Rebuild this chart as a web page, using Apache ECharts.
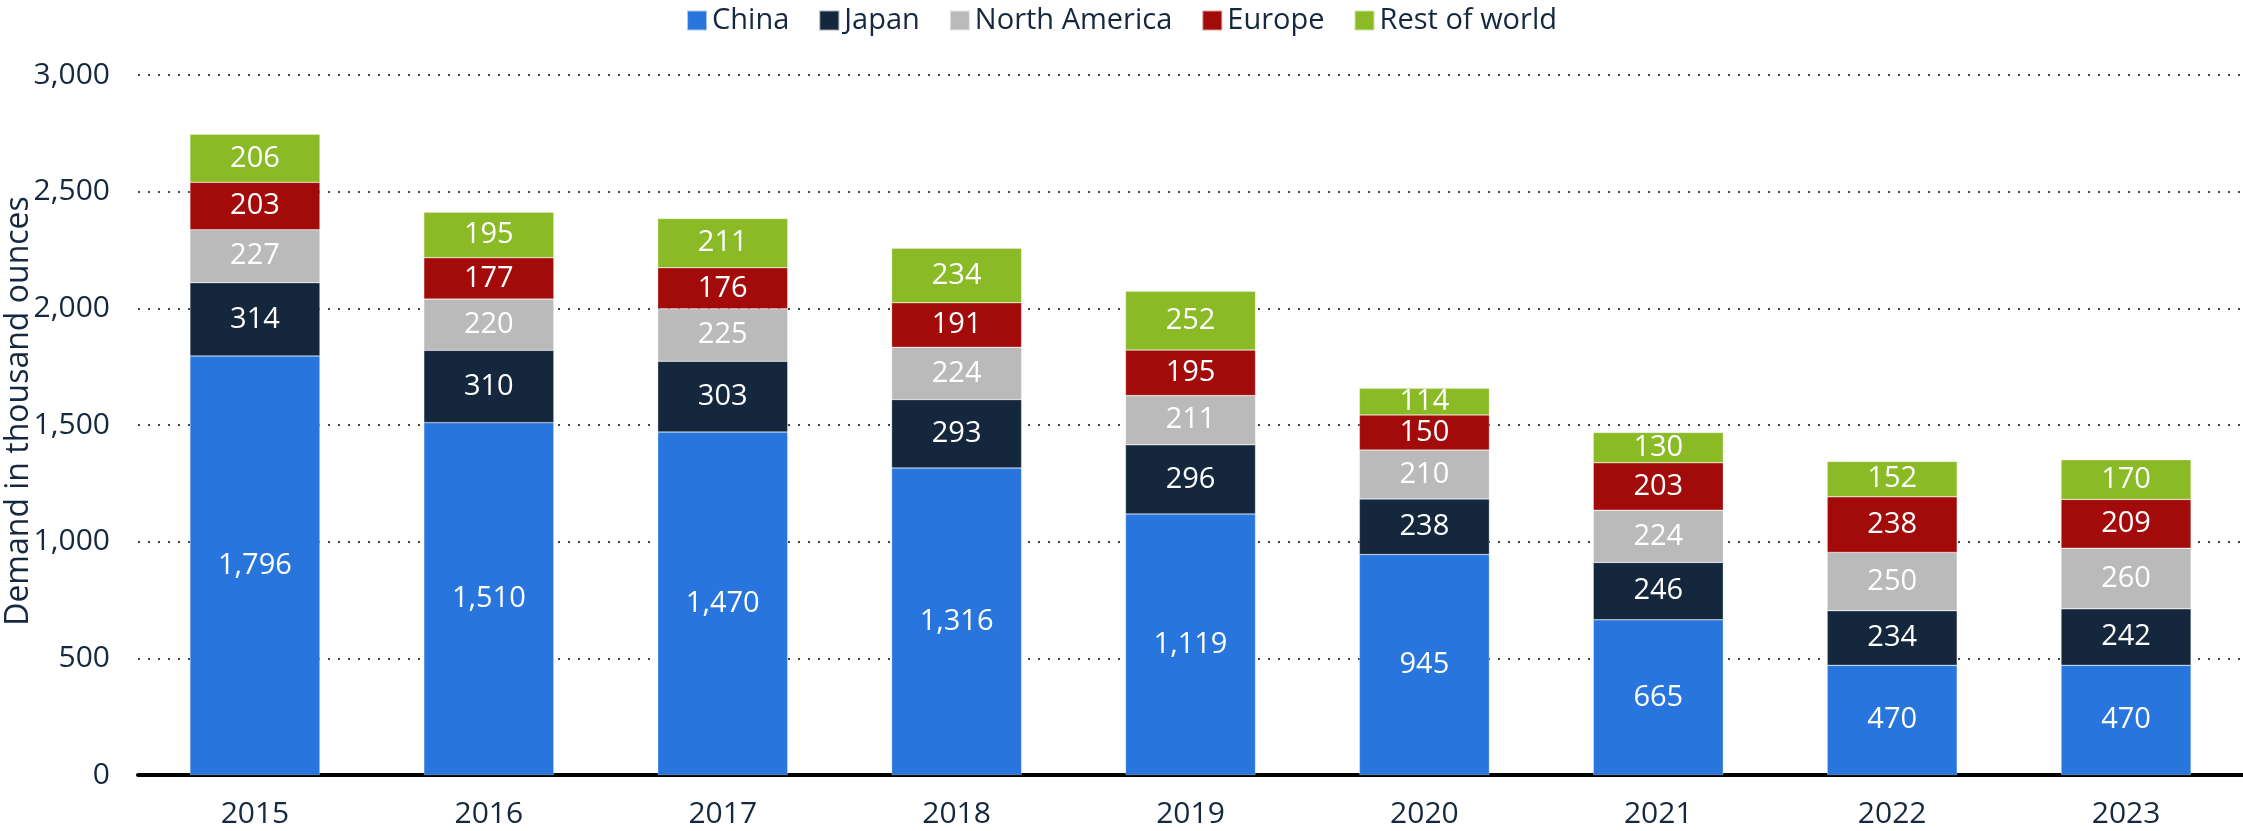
<!DOCTYPE html>
<html>
<head>
<meta charset="utf-8">
<script src="https://cdn.jsdelivr.net/npm/echarts@6/dist/echarts.min.js"></script>
<style>
  html, body { margin: 0; padding: 0; background: #fff; }
  #chart { width: 2243px; height: 831px; }
</style>
</head>
<body>
<div id="chart"></div>
<script>
// 年份
const years = ['2015', '2016', '2017', '2018', '2019', '2020', '2021', '2022', '2023']
// 各地区需求 (thousand ounces)
const china = [1796, 1510, 1470, 1316, 1119, 945, 665, 470, 470]
const japan = [314, 310, 303, 293, 296, 238, 246, 234, 242]
const northAmerica = [227, 220, 225, 224, 211, 210, 224, 250, 260]
const europe = [203, 177, 176, 191, 195, 150, 203, 238, 209]
const restOfWorld = [206, 195, 211, 234, 252, 114, 130, 152, 170]

const textColor = '#15283f'
const fontFamily = '"Open Sans", sans-serif'

function makeSeries (name, data, color) {
  return {
    name: name,
    type: 'bar',
    stack: 'total',
    data: data,
    barWidth: 130,
    itemStyle: { color: color, borderColor: 'rgba(255,255,255,0.6)', borderWidth: 0.5 },
    label: {
      show: true,
      position: 'inside',
      color: '#fff',
      fontSize: 29,
      fontFamily: fontFamily,
      textShadowColor: '#0d1c2e',
      textShadowOffsetX: 1.5,
      textShadowOffsetY: 1.5,
      textShadowBlur: 0,
      formatter: p => p.value.toLocaleString('en-US')
    }
  }
}

const chart = echarts.init(document.getElementById('chart'))
chart.setOption({
  animation: false,
  textStyle: { fontFamily: fontFamily },
  legend: {
    top: 1,
    left: 'center',
    itemWidth: 20,
    itemHeight: 20,
    itemGap: 29,
    icon: 'rect',
    textStyle: { fontSize: 29, color: textColor, fontFamily: fontFamily }
  },
  grid: { left: 138, right: 0, top: 75, bottom: 56, outerBoundsMode: 'none' },
  xAxis: {
    type: 'category',
    data: years,
    axisLine: { lineStyle: { color: '#000', width: 4 } },
    axisTick: { show: false },
    axisLabel: { fontSize: 30, color: textColor, margin: 24 }
  },
  yAxis: {
    type: 'value',
    min: 0,
    max: 3000,
    interval: 500,
    name: 'Demand in thousand ounces',
    nameLocation: 'middle',
    nameRotate: 90,
    nameGap: 103,
    nameMoveOverlap: false,
    nameTextStyle: { fontSize: 32, color: textColor, padding: [0, 0, 0, 28] },
    axisLabel: {
      fontSize: 30,
      color: textColor,
      margin: 28,
      formatter: v => v.toLocaleString('en-US')
    },
    splitLine: { lineStyle: { color: '#444', width: 2, type: [2, 8] } }
  },
  series: [
    makeSeries('China', china, '#2876dd'),
    makeSeries('Japan', japan, '#14273c'),
    makeSeries('North America', northAmerica, '#bababa'),
    makeSeries('Europe', europe, '#a30b0b'),
    makeSeries('Rest of world', restOfWorld, '#8aba26')
  ]
})
</script>
</body>
</html>
